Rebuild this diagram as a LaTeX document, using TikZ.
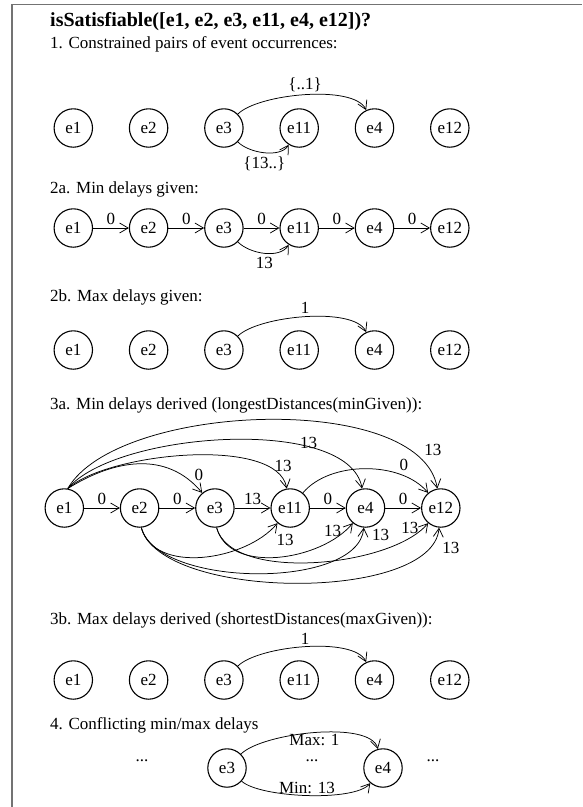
\documentclass[tikz,border=0pt]{standalone}
\usepackage{fontspec}
\setmainfont{Liberation Serif}
\usetikzlibrary{arrows.meta}

% one row of event occurrences: prefix, x of e1, y
\newcommand\evrow[3]{%
  \foreach \n [count=\i from 0] in {e1,e2,e3,e11,e4,e12}
    \node[ev] (#1\n) at (#2+75.3*\i,#3) {\n};}

\begin{document}
\begin{tikzpicture}[x=1pt,y=-1pt,font=\fontsize{17}{20}\selectfont]
  \tikzset{ev/.style = {circle, draw, line width=1.1pt,
                        minimum size=38.4pt, inner sep=0pt},
           dl/.style = {-{Straight Barb[length=8.5pt,width=10pt]},
                        line width=0.75pt},
           lbl/.style = {inner sep=1pt},
           hd/.style = {anchor=west, inner sep=0pt}}
\useasboundingbox (0,0) rectangle (582,807);
\draw[black!55, line width=1.5pt] (12,807) -- (12,4.5) -- (582,4.5);

\node[hd, font=\fontsize{20}{24}\selectfont\bfseries] (title) at (50,22)
  {isSatisfiable([e1, e2, e3, e11, e4, e12])?};

% 1. constrained pairs
\node[hd] (h1) at (50,44) {1. Constrained pairs of event occurrences:};
\evrow{a}{73.3}{128}
\draw[dl] (ae3) to[out=45,in=115,looseness=0.57]
  node[lbl, above=2pt] {\{..1\}} (ae4);
\draw[dl] (ae3) to[out=-45,in=-122,looseness=0.8]
  node[lbl, below=3pt] {\{13..\}} (ae11);

% 2a. min given
\node[hd] (h2a) at (50,189) {2a. Min delays given:};
\evrow{b}{73.3}{228}
\foreach \s/\t in {e1/e2,e2/e3,e3/e11,e11/e4,e4/e12}
  \draw[dl] (b\s) -- node[lbl, above=2pt] {0} (b\t);
\draw[dl] (be3) to[out=-45,in=-122,looseness=0.85]
  node[lbl, below=3pt] {13} (be11);

% 2b. max given
\node[hd] (h2b) at (50,297) {2b. Max delays given:};
\evrow{c}{73.3}{350}
\draw[dl] (ce3) to[out=45,in=115,looseness=0.57]
  node[lbl, above=2pt] {1} (ce4);

% 3a. min derived
\node[hd] (h3a) at (50,405) {3a. Min delays derived (longestDistances(minGiven)):};
\evrow{d}{64.3}{508}
\foreach \s/\t/\w in {e1/e2/0,e2/e3/0,e3/e11/13,e11/e4/0,e4/e12/0}
  \draw[dl] (d\s) -- node[lbl, above=2pt] {\w} (d\t);
% over the top
\draw[dl] (de1.80) to[out=32,in=130,looseness=1.05] (de3);
\draw[dl] (de1.80) to[out=42,in=100,looseness=0.63] (de11);
\draw[dl] (de1.80) to[out=50,in=100,looseness=0.65] (de4);
\draw[dl] (de1.80) to[out=60,in=100,looseness=0.69] (de12);
\draw[dl] (de11) to[out=50,in=130,looseness=0.86] (de12);
\node[lbl] (l13) at ([shift={(-16,-33)}]de3) {0};
\node[lbl] (l111) at ([shift={(-7,-42)}]de11) {13};
\node[lbl] (l14) at ([shift={(-57,-65)}]de4) {13};
\node[lbl] (l112) at ([shift={(-8,-58)}]de12) {13};
\node[lbl] (l1112) at ([shift={(-37,-43)}]de12) {0};
% underneath
\draw[dl] (de2.-85) to[out=-75,in=-130,looseness=0.92] (de11);
\draw[dl] (de3.-85) to[out=-75,in=-130,looseness=0.92] (de4);
\draw[dl] (de3.-85) to[out=-75,in=-130,looseness=0.69] (de12);
\draw[dl] (de2.-85) to[out=-75,in=-95,looseness=0.72] (de4);
\draw[dl] (de2.-85) to[out=-75,in=-95,looseness=0.65] (de12);
\node[lbl] (l211) at ([shift={(-5,32)}]de11) {13};
\node[lbl] (l34) at ([shift={(-33,23)}]de4) {13};
\node[lbl] (l24) at ([shift={(15,27)}]de4) {13};
\node[lbl] (l312) at ([shift={(-31,20)}]de12) {13};
\node[lbl] (l212) at ([shift={(10,40)}]de12) {13};

% 3b. max derived
\node[hd] (h3b) at (50,620) {3b. Max delays derived (shortestDistances(maxGiven)):};
\evrow{e}{73.3}{680}
\draw[dl] (ee3) to[out=45,in=115,looseness=0.57]
  node[lbl, above=1pt] {1} (ee4);

% 4. conflict
\node[hd] (h4) at (50,725) {4. Conflicting min/max delays};
\node[ev] (fe3) at (227,768) {e3};
\node[ev] (fe4) at (383,768) {e4};
\node (fl) at (142,761) {...};
\node (fr) at (433,761) {...};
\node (fm) at (312,761) {...};
\draw[dl] (fe3) to[out=45,in=105,looseness=0.56]
  node[lbl, below] {Max: 1} (fe4);
\draw[dl] (fe3) to[out=-42,in=-130,looseness=0.49]
  node[lbl, above] {Min: 13} (fe4);
\end{tikzpicture}
\end{document}
